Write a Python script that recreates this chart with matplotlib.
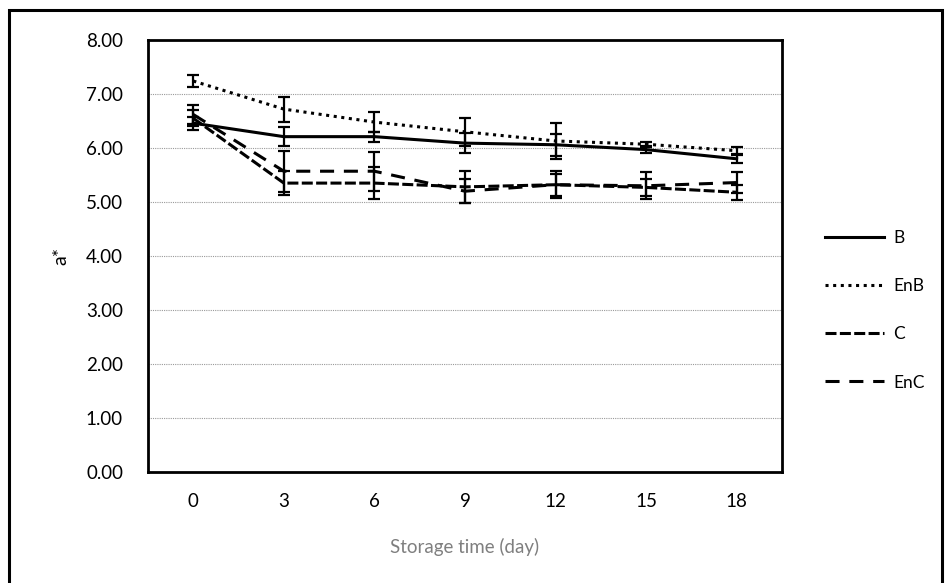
import numpy as np
import matplotlib
matplotlib.use("Agg")
import matplotlib.pyplot as plt
from matplotlib.patches import Rectangle

plt.rcParams['font.family'] = ['Lato', 'DejaVu Sans']

# storage days and a* values
days = [0, 3, 6, 9, 12, 15, 18]
b_vals = [6.46, 6.21, 6.21, 6.09, 6.06, 5.97, 5.80]
b_err = [0.12, 0.18, 0.09, 0.18, 0.20, 0.06, 0.07]
enb_vals = [7.24, 6.72, 6.48, 6.30, 6.13, 6.07, 5.95]
enb_err = [0.11, 0.23, 0.18, 0.26, 0.33, 0.05, 0.06]
c_vals = [6.55, 5.35, 5.35, 5.28, 5.32, 5.27, 5.18]
c_err = [0.15, 0.22, 0.30, 0.30, 0.20, 0.15, 0.14]
enc_vals = [6.62, 5.57, 5.57, 5.20, 5.32, 5.30, 5.36]
enc_err = [0.18, 0.38, 0.36, 0.22, 0.25, 0.25, 0.20]

series = [
    ("B", b_vals, b_err, "-"),
    ("EnB", enb_vals, enb_err, (0, (1, 1.5))),
    ("C", c_vals, c_err, (0, (3.6, 1.1))),
    ("EnC", enc_vals, enc_err, (0, (4.6, 3.2))),
]

fig = plt.figure(figsize=(9.46, 5.83), dpi=100)
ax = fig.add_axes([0.1565, 0.1904, 0.670, 0.741])

# outer chart frame (bottom edge falls off the page)
fig.patches.append(Rectangle((0.009, -0.05), 0.987, 1.032, transform=fig.transFigure,
                             fill=False, edgecolor='black', linewidth=2.2))

pos = np.arange(len(days))
for name, vals, err, ls in series:
    ax.errorbar(pos, vals, yerr=err, color='black', linestyle=ls, linewidth=2.2,
                ecolor='black', elinewidth=1.6, capsize=4, capthick=1.6,
                label=name, dash_capstyle='butt')

ax.set_xlim(-0.5, len(days) - 0.5)
ax.set_ylim(0, 8)
ax.set_yticks(np.arange(0, 9, 1))
ax.set_yticklabels([f"{v:.2f}" for v in range(9)], fontsize=13.5)
ax.set_xticks(pos)
ax.set_xticklabels([str(d) for d in days], fontsize=13.5)
ax.tick_params(axis='x', length=0, pad=15)
ax.tick_params(axis='y', length=0, pad=18)

ax.yaxis.grid(True, color='#9a9a9a', linestyle=(0, (1, 1)), linewidth=0.8)
ax.set_axisbelow(True)
for sp in ax.spines.values():
    sp.set_linewidth(2.0)
    sp.set_color('black')

ax.set_xlabel("Storage time (day)", fontsize=13.5, color='#7f7f7f', labelpad=20)
ax.set_ylabel("a*", fontsize=14, labelpad=12)

handles, labels = ax.get_legend_handles_labels()
handles = [h[0] for h in handles]
leg = fig.legend(handles, labels, loc='upper left', bbox_to_anchor=(0.856, 0.632),
                 frameon=False, fontsize=12.5, handlelength=3.4, labelspacing=1.85,
                 handletextpad=0.5)

fig.savefig("out.png", dpi=100, facecolor='white')
